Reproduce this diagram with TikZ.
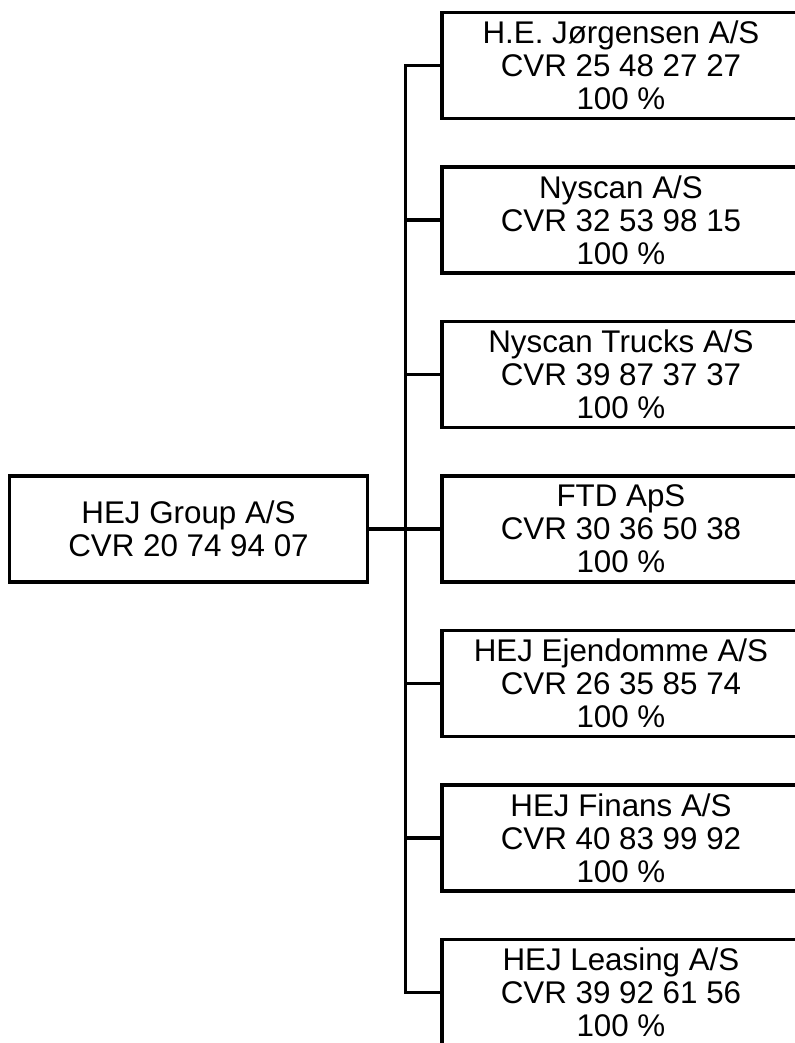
\documentclass[tikz,border=0pt]{standalone}
\usepackage{fontspec}
\setmainfont{Liberation Sans}
\usetikzlibrary{positioning}

\begin{document}
\begin{tikzpicture}[
    node distance=33.75pt and 53.25pt,
    box/.style={draw, line width=2.6pt, minimum width=268.5pt, minimum height=79.5pt, inner sep=0pt, align=center, font=\fontsize{23.5}{24.75}\selectfont},
    link/.style={line width=2.6pt}
]
\useasboundingbox (-141.375pt,396.75pt) rectangle ++(596.25pt,-782.25pt);
\node[box] (group) {HEJ Group A/S\\CVR 20 74 94 07};
\node[box, right=of group] (ftd) {FTD ApS\\CVR 30 36 50 38\\100 \%};
\node[box, above=of ftd] (trucks) {Nyscan Trucks A/S\\CVR 39 87 37 37\\100 \%};
\node[box, above=of trucks] (nyscan) {Nyscan A/S\\CVR 32 53 98 15\\100 \%};
\node[box, above=of nyscan] (hej) {H.E. Jørgensen A/S\\CVR 25 48 27 27\\100 \%};
\node[box, below=of ftd] (ejendomme) {HEJ Ejendomme A/S\\CVR 26 35 85 74\\100 \%};
\node[box, below=of ejendomme] (finans) {HEJ Finans A/S\\CVR 40 83 99 92\\100 \%};
\node[box, below=of finans] (leasing) {HEJ Leasing A/S\\CVR 39 92 61 56\\100 \%};

\draw[link] (group.east) -- ++(27pt,0) |- (hej.west);
\draw[link] (group.east) -- ++(27pt,0) |- (nyscan.west);
\draw[link] (group.east) -- ++(27pt,0) |- (trucks.west);
\draw[link] (group.east) -- (ftd.west);
\draw[link] (group.east) -- ++(27pt,0) |- (ejendomme.west);
\draw[link] (group.east) -- ++(27pt,0) |- (finans.west);
\draw[link] (group.east) -- ++(27pt,0) |- (leasing.west);
\end{tikzpicture}
\end{document}
